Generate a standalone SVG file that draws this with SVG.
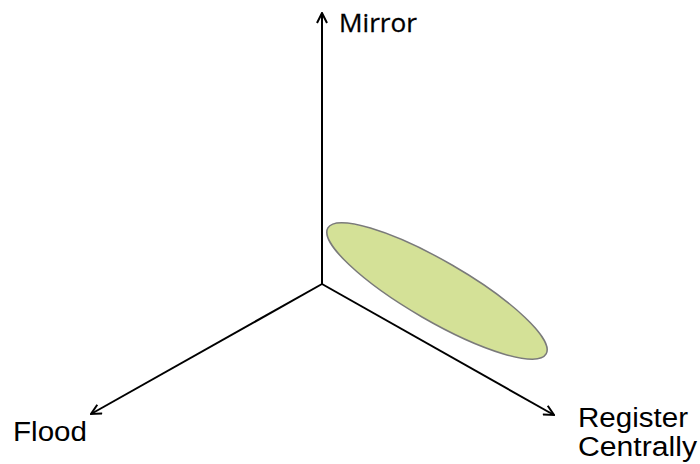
<svg xmlns="http://www.w3.org/2000/svg" width="700" height="464" viewBox="0 0 700 464">
<style>
.ax{stroke:#000;stroke-width:2;fill:none;marker-end:url(#ah)}
.t{font-family:"Liberation Sans",Arial,sans-serif;font-size:27px;fill:#000}
.m{font-family:"Open Sans","Liberation Sans",sans-serif;font-size:25px;fill:#000;stroke:#000;stroke-width:0.3}
</style>
<defs>
<marker id="ah" markerWidth="12" markerHeight="12" viewBox="0 0 12 12" refX="11" refY="6" orient="auto" markerUnits="userSpaceOnUse">
<path d="M1,1 L11,6 L1,11" fill="none" stroke="#000" stroke-width="2"/>
</marker>
</defs>
<g id="connectors">
<line class="ax" x1="322" y1="284" x2="322" y2="13"/>
<line class="ax" x1="322" y1="284" x2="91" y2="414"/>
<line class="ax" x1="322" y1="284" x2="554" y2="415"/>
</g>
<g id="ellipse">
<ellipse cx="437" cy="291" rx="126" ry="30" transform="rotate(30 437 291)" fill="#d4e197" stroke="#7a7a7a" stroke-width="1.5"/>
</g>
<g id="mirror"><text class="m" x="339" y="32" textLength="78" lengthAdjust="spacingAndGlyphs">Mirror</text></g>
<g id="flood"><text class="t" x="13" y="441" textLength="74" lengthAdjust="spacingAndGlyphs">Flood</text></g>
<g id="register"><text class="t" x="578" y="427" textLength="110" lengthAdjust="spacingAndGlyphs">Register</text><text class="t" x="578" y="456" textLength="119" lengthAdjust="spacingAndGlyphs">Centrally</text></g>
</svg>
